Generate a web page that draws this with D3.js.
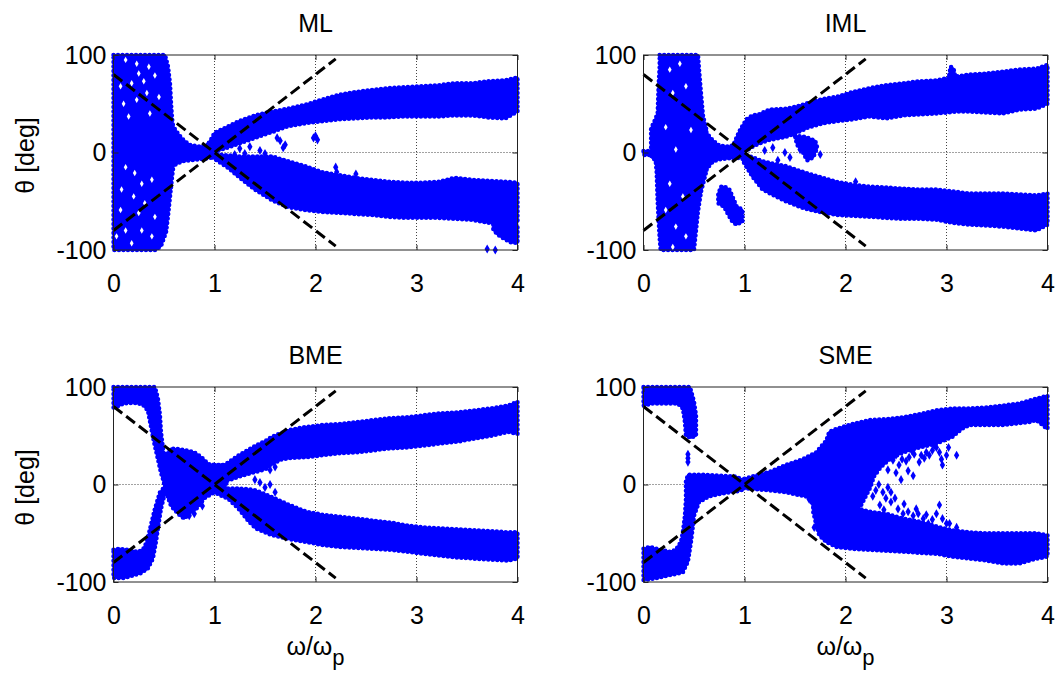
<!DOCTYPE html>
<html>
<head>
<meta charset="utf-8">
<script src="https://cdnjs.cloudflare.com/ajax/libs/d3/7.8.5/d3.min.js"></script>
<style>
  body { margin: 0; background: #fff; }
  svg { display: block; }
  text { font-family: "Liberation Sans", Arial, Helvetica, sans-serif; fill: #000; }
</style>
</head>
<body>
<svg id="chart" width="1057" height="677"></svg>
<script>
// ---- axes ----
const xTicks = [0, 1, 2, 3, 4];
const yTicks = [-100, 0, 100];
const xDomain = [0, 4];
const yDomain = [-100, 100];

// ---- reference lines θ = ±80(ω−1), end points ----
const guideUp = [[0, -80], [2.2, 96]];
const guideDown = [[0, 80], [2.2, -96]];

// ---- point clouds ----
// bands: rows of [ω, θ lower, θ upper]; outlines: closed rings of [ω, θ]

// ML
const mlLeft = [[0,100],[0.51,100],[0.54,88],[0.56,70],[0.57,50],[0.58,35],[0.6,18],[0.6,-8],[0.58,-25],[0.56,-45],[0.54,-65],[0.52,-82],[0.47,-96],[0.42,-100],[0,-100]];
const mlNeck = [[0.56,-14,32],[0.62,-12,22],[0.68,-9,14],[0.75,-8,8],[0.84,-7,6],[0.92,-6,7],[1.0,-5,14]];
const mlUpper = [[0.92,1,6],[0.97,0,14],[1.0,1,20],[1.1,4,25],[1.24,9,32],[1.4,15,38],[1.57,21,42],[1.73,27,45],[1.9,30,49],[2.06,32,54],[2.23,34,59],[2.39,35,62],[2.56,36,64],[2.72,36,66],[2.89,37,67],[3.05,37,68],[3.22,37,69],[3.38,38,71],[3.55,38,71],[3.71,36,73],[3.88,35,74],[4.0,42,77]];
const mlLower = [[0.98,-5,-1],[1.05,-10,-2],[1.14,-16,-3],[1.24,-25,-4],[1.4,-38,-4],[1.57,-49,-4],[1.73,-56,-9],[1.9,-59,-14],[2.06,-61,-20],[2.23,-62,-23],[2.39,-63,-26],[2.56,-64,-28],[2.72,-66,-30],[2.89,-67,-31],[3.05,-67,-31],[3.22,-67,-30],[3.38,-68,-26],[3.55,-69,-28],[3.71,-72,-29],[3.88,-74,-30],[4.0,-72,-31]];
const mlTail = [[3.76,-74],[4.0,-74],[4.0,-93],[3.93,-92],[3.86,-88],[3.8,-84],[3.76,-79]];
const mlScatter = [[1.65,12],[1.7,8],[1.62,15],[1.68,5],[1.98,15],[2.02,13],[2.0,17],[2.2,-15],[2.21,-20],[2.4,-22],[1.3,-1],[1.45,2],[1.5,-1],[3.7,-99],[3.78,-100],[1.35,6],[1.2,-2],[1.25,4]];
const mlHoles = [[0.12,95],[0.23,91],[0.25,81],[0.35,88],[0.41,79],[0.07,68],[0.18,71],[0.3,73],[0.33,61],[0.1,50],[0.23,54],[0.45,57],[0.15,37],[0.36,40],[0.12,-15],[0.21,-21],[0.28,-32],[0.38,-28],[0.08,-38],[0.2,-45],[0.31,-52],[0.07,-59],[0.25,-62],[0.41,-66],[0.12,-80],[0.28,-80],[0.38,-86],[0.18,-93],[0.03,-86]];

// IML
const imlStub = [[0,-2.5,1.5],[0.12,-2.5,1.5]];
const imlLeft = [[0.16,100],[0.54,100],[0.55,85],[0.57,60],[0.59,37],[0.62,25],[0.62,-20],[0.6,-28],[0.57,-40],[0.54,-60],[0.52,-80],[0.5,-100],[0.17,-100],[0.16,-88],[0.15,-70],[0.14,-50],[0.13,-20],[0.12,-8],[0.08,-5],[0.075,5],[0.075,25],[0.1,30],[0.14,40],[0.15,70],[0.16,88]];
const imlNeck = [[0.6,-22,25],[0.64,-15,18],[0.69,-9,12],[0.75,-7,7],[0.85,-6,6],[0.92,-6,9],[0.98,-5,14]];
const imlIsland = [[0.77,-35],[0.8,-35],[0.85,-38],[0.88,-45],[0.92,-55],[0.98,-59],[0.98,-71],[0.92,-74],[0.88,-71],[0.83,-62],[0.8,-56],[0.74,-52],[0.74,-42]];
const imlUpper = [[0.9,2,10],[0.95,2,22],[1.02,2,34],[1.08,6,38],[1.14,9,39],[1.25,13,44],[1.41,16,45],[1.51,20,47],[1.64,26,51],[1.78,30,55],[1.91,32,57],[2.07,34,62],[2.24,37,66],[2.4,35,69],[2.57,38,71],[2.73,39,73],[2.9,40,74],[3.0,41,76],[3.1,42,78],[3.23,42,80],[3.39,41,81],[3.56,40,83],[3.72,44,85],[3.89,45,86],[4.0,50,90]];
const imlSpike = [[3.02,75],[3.04,88],[3.07,86],[3.09,76]];
const imlPatch = [[1.5,17],[1.6,16],[1.7,12],[1.72,5],[1.68,-5],[1.62,-8],[1.58,0],[1.52,8]];
const imlLower = [[0.98,-8,-1],[1.08,-25,-5],[1.18,-38,-9],[1.31,-45,-12],[1.41,-50,-14],[1.58,-57,-20],[1.74,-61,-25],[1.91,-64,-30],[2.07,-65,-33],[2.24,-66,-35],[2.4,-67,-36],[2.57,-68,-37],[2.73,-68,-38],[2.9,-69,-38],[3.06,-72,-40],[3.23,-74,-42],[3.39,-75,-42],[3.56,-76,-42],[3.72,-78,-43],[3.89,-80,-44],[4.0,-74,-42]];
const imlScatter = [[1.3,-20],[1.35,-25],[1.25,-15],[1.45,-5],[1.4,0],[1.33,-8],[1.1,-12],[1.15,-18],[3.85,-47],[2.1,-30],[1.55,3],[1.75,-2],[1.2,2],[1.28,5]];
const imlHoles = [[0.26,85],[0.36,91],[0.29,61],[0.42,68],[0.22,26],[0.47,23],[0.32,3],[0.26,-32],[0.39,-45],[0.22,-59],[0.32,-76],[0.42,-86],[0.29,-97]];

// BME
const bmeTopLeft = [[0,100],[0.41,100],[0.44,88],[0.46,71],[0.47,54],[0.49,37],[0.51,20],[0.53,2],[0.51,-1],[0.47,12],[0.44,26],[0.4,44],[0.37,60],[0.34,76],[0.29,82],[0.2,84],[0.1,83],[0.04,80],[0,79]];
const bmeLowLeft = [[0,-67],[0.06,-66],[0.14,-67],[0.24,-69],[0.29,-67],[0.33,-59],[0.37,-42],[0.41,-25],[0.46,-8],[0.52,-1],[0.51,-8],[0.47,-25],[0.44,-45],[0.42,-59],[0.39,-76],[0.34,-86],[0.27,-91],[0.17,-94],[0.1,-96],[0,-96]];
const bmeCentre = [[0.5,28],[0.57,37],[0.67,36],[0.8,33],[0.87,28],[0.94,21],[1.0,20],[1.1,20],[1.15,12],[1.12,2],[1.1,-4],[1.0,-8],[0.9,-14],[0.82,-25],[0.75,-30],[0.7,-35],[0.64,-30],[0.57,-22],[0.52,-8],[0.5,0]];
const bmeUpper = [[1.0,4,20],[1.1,3,20],[1.24,8,30],[1.41,13,40],[1.51,16,45],[1.57,21,49],[1.67,26,53],[1.74,27,56],[1.91,28,59],[2.07,30,61],[2.24,32,62],[2.41,33,64],[2.57,35,66],[2.74,37,68],[2.91,38,69],[3.07,40,71],[3.24,42,73],[3.41,44,74],[3.57,47,76],[3.74,50,78],[3.91,54,81],[4.0,52,85]];
const bmeLower = [[1.0,-8,-4],[1.14,-15,-4],[1.24,-25,-4],[1.34,-38,-5],[1.41,-45,-6],[1.57,-52,-13],[1.74,-56,-21],[1.91,-59,-28],[2.07,-62,-31],[2.24,-64,-33],[2.41,-65,-35],[2.57,-66,-37],[2.74,-67,-39],[2.91,-69,-42],[3.07,-71,-44],[3.24,-73,-45],[3.41,-75,-46],[3.57,-76,-47],[3.74,-77,-48],[3.91,-78,-49],[4.0,-76,-49]];
const bmeScatter = [[1.45,2],[1.5,-3],[1.55,0],[1.4,5],[1.6,-8],[0.75,-32],[0.8,-30],[0.88,-22],[1.55,15],[1.6,18]];

// SME
const smeTopLeft = [[0,100],[0.46,100],[0.5,85],[0.52,71],[0.52,57],[0.52,50],[0.47,48],[0.42,50],[0.41,64],[0.39,78],[0.34,83],[0.22,83],[0.09,83],[0,81]];
const smeLowLeft = [[0,-66],[0.06,-64],[0.13,-66],[0.26,-69],[0.32,-67],[0.37,-59],[0.39,-49],[0.41,-32],[0.42,-15],[0.42,3],[0.44,10],[0.59,10],[0.75,9],[0.92,8],[1.0,4],[1.0,-5],[0.92,-7],[0.79,-9],[0.65,-12],[0.55,-18],[0.5,-32],[0.49,-42],[0.47,-59],[0.44,-79],[0.39,-90],[0.26,-93],[0.13,-96],[0,-98]];
const smeUpper = [[1.0,6],[1.25,13],[1.41,20],[1.58,26],[1.71,33],[1.81,45],[1.84,54],[1.91,57],[2.07,62],[2.24,66],[2.4,67],[2.57,69],[2.73,72],[2.9,76],[3.06,78],[3.23,78],[3.39,79],[3.56,81],[3.72,83],[3.89,88],[4.0,91],[4.0,57],[3.89,66],[3.82,64],[3.56,61],[3.23,61],[3.15,57],[3.06,49],[2.9,42],[2.73,38],[2.57,33],[2.45,27],[2.35,18],[2.28,8],[2.25,-2],[2.2,-12],[2.15,-22],[2.05,-30],[1.8,-30],[1.7,-26],[1.64,-13],[1.41,-8],[1.25,-6],[1.02,-4]];
const smeLower = [[1.68,-28,-20],[1.72,-45,-20],[1.74,-52,-21],[1.81,-59,-23],[1.91,-64,-21],[2.07,-66,-23],[2.24,-67,-28],[2.4,-68,-30],[2.57,-69,-35],[2.73,-70,-38],[2.9,-71,-43],[3.06,-74,-47],[3.23,-76,-49],[3.39,-78,-50],[3.56,-81,-50],[3.72,-81,-50],[3.89,-76,-50],[4.0,-74,-52]];
const smeScatter = [[0.44,31],[0.44,27],[0.44,23],[2.37,23],[2.44,28],[2.47,25],[2.5,30],[2.53,20],[2.56,26],[2.6,24],[2.63,28],[2.66,34],[2.68,31],[2.73,23],[2.75,30],[2.78,27],[2.8,33],[2.83,30],[2.86,35],[2.88,40],[2.9,38],[2.93,33],[2.95,26],[2.96,20],[3.0,30],[3.02,38],[3.1,30],[2.67,9],[2.62,14],[2.5,12],[2.42,15],[2.33,0],[2.3,-6],[2.27,-12],[2.37,-8],[2.42,-3],[2.4,-14],[2.45,-18],[2.49,-14],[2.34,-21],[2.38,-26],[2.52,-25],[2.57,-30],[2.62,-28],[2.67,-32],[2.72,-30],[2.77,-35],[2.8,-31],[2.82,-40],[2.86,-36],[2.93,-21],[2.96,-35],[3.0,-40],[3.03,-40],[3.1,-44],[1.69,-44],[1.64,-15],[2.55,5],[2.45,-8],[2.58,-20],[2.9,-30],[2.7,-25]];

// ---- layout ----
const plotW = 404, plotH = 195;
const panels = [
  { name: "ML",  x0: 113.5, y0: 55,  yLabel: true,  xLabel: false,
    outlines: [mlLeft, mlTail], bands: [mlNeck, mlUpper, mlLower], scatter: mlScatter, holes: mlHoles },
  { name: "IML", x0: 643.5, y0: 55,  yLabel: false, xLabel: false,
    outlines: [imlLeft, imlIsland, imlSpike, imlPatch], bands: [imlStub, imlNeck, imlUpper, imlLower], scatter: imlScatter, holes: imlHoles },
  { name: "BME", x0: 113.5, y0: 387, yLabel: true,  xLabel: true,
    outlines: [bmeTopLeft, bmeLowLeft, bmeCentre], bands: [bmeUpper, bmeLower], scatter: bmeScatter, holes: [] },
  { name: "SME", x0: 643.5, y0: 387, yLabel: false, xLabel: true,
    outlines: [smeTopLeft, smeLowLeft, smeUpper], bands: [smeLower], scatter: smeScatter, holes: [] }
];

const BLUE = "#0000ff";
const FONT = 25;
const svg = d3.select("#chart");

panels.forEach(p => {
  const g = svg.append("g").attr("transform", `translate(${p.x0},${p.y0})`);
  const x = d3.scaleLinear().domain(xDomain).range([0, plotW]);
  const y = d3.scaleLinear().domain(yDomain).range([plotH, 0]);

  // dotted grid
  const grid = g.append("g").attr("stroke", "#444").attr("stroke-width", 1).attr("stroke-dasharray", "1,2");
  grid.selectAll("line.gx").data(xTicks.filter(t => t > xDomain[0] && t < xDomain[1])).join("line")
    .attr("x1", d => x(d)).attr("x2", d => x(d)).attr("y1", 0).attr("y2", plotH);
  grid.selectAll("line.gy").data(yTicks.filter(t => t > yDomain[0] && t < yDomain[1])).join("line")
    .attr("y1", d => y(d)).attr("y2", d => y(d)).attr("x1", 0).attr("x2", plotW);

  // clouds: solid body plus a beaded rim so the edge reads as markers
  const area = d3.area().x(d => x(d[0])).y0(d => y(d[1])).y1(d => y(d[2]));
  const ring = d3.line().x(d => x(d[0])).y(d => y(d[1]));
  const shapes = p.bands.map(b => area(b)).concat(p.outlines.map(o => ring(o) + "Z"));
  const cloud = g.append("g");
  cloud.selectAll("path.body").data(shapes).join("path").attr("class", "body")
    .attr("d", d => d).attr("fill", BLUE).attr("stroke", BLUE)
    .attr("stroke-width", 2).attr("stroke-linejoin", "round");
  cloud.selectAll("path.rim").data(shapes).join("path").attr("class", "rim")
    .attr("d", d => d).attr("fill", "none").attr("stroke", BLUE)
    .attr("stroke-width", 4.5).attr("stroke-linecap", "round").attr("stroke-dasharray", "0,4.5");

  const diamond = d3.symbol().type(d3.symbolDiamond).size(24);
  g.append("g").selectAll("path").data(p.scatter).join("path")
    .attr("d", diamond).attr("fill", BLUE)
    .attr("transform", d => `translate(${x(d[0])},${y(d[1])})`);
  const speck = d3.symbol().type(d3.symbolDiamond).size(12);
  g.append("g").selectAll("path").data(p.holes).join("path")
    .attr("d", speck).attr("fill", "#fff")
    .attr("transform", d => `translate(${x(d[0])},${y(d[1])})`);

  // dashed reference lines
  [guideUp, guideDown].forEach(l => {
    g.append("path").attr("d", ring(l)).attr("fill", "none")
      .attr("stroke", "#000").attr("stroke-width", 3).attr("stroke-dasharray", "11,5");
  });

  // box
  g.append("rect").attr("width", plotW).attr("height", plotH)
    .attr("fill", "none").attr("stroke", "#222").attr("stroke-width", 1);

  // axes with inward ticks
  const fmt = d => String(d);
  const ax = g.append("g").attr("transform", `translate(0,${plotH})`)
    .call(d3.axisBottom(x).tickValues(xTicks).tickFormat(fmt).tickSizeInner(-5).tickSizeOuter(0).tickPadding(24));
  const ay = g.append("g")
    .call(d3.axisLeft(y).tickValues(yTicks).tickFormat(fmt).tickSizeInner(-5).tickSizeOuter(0).tickPadding(7));
  const axTop = g.append("g")
    .call(d3.axisTop(x).tickValues(xTicks).tickFormat("").tickSizeInner(-5).tickSizeOuter(0));
  const ayRight = g.append("g").attr("transform", `translate(${plotW},0)`)
    .call(d3.axisRight(y).tickValues(yTicks).tickFormat("").tickSizeInner(-5).tickSizeOuter(0));
  [ax, ay, axTop, ayRight].forEach(a => {
    a.select(".domain").remove();
    a.selectAll("line").attr("stroke", "#222");
    a.selectAll("text").attr("font-size", FONT).attr("font-family", '"Liberation Sans", Arial, sans-serif').attr("fill", "#000");
  });

  // title
  g.append("text").attr("x", plotW / 2).attr("y", -23).attr("text-anchor", "middle")
    .attr("font-size", FONT).text(p.name);

  if (p.yLabel) {
    g.append("text").attr("transform", `translate(-79.5,${plotH / 2 + 3}) rotate(-90)`)
      .attr("text-anchor", "middle").attr("font-size", FONT).text("θ [deg]");
  }
  if (p.xLabel) {
    const t = g.append("text").attr("x", plotW / 2).attr("y", plotH + 73)
      .attr("text-anchor", "middle").attr("font-size", FONT);
    t.append("tspan").text("ω/ω");
    t.append("tspan").attr("dy", 10).attr("font-size", 22).text("p");
  }
});
</script>
</body>
</html>
